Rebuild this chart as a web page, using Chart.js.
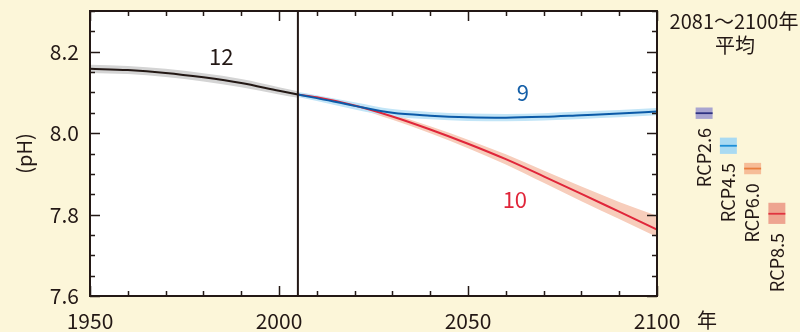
<!DOCTYPE html>
<html>
<head>
<meta charset="utf-8">
<script src="https://cdn.jsdelivr.net/npm/chart.js@4.4.1/dist/chart.umd.min.js"></script>
<style>
  body { margin: 0; background: #fcf6d9; }
  #wrap { position: relative; width: 800px; height: 332px; }
  canvas { position: absolute; top: 0; }
</style>
</head>
<body>
<div id="wrap">
  <canvas id="phChart" width="800" height="332" style="left:0"></canvas>
  <canvas id="rcpChart" width="120" height="332" style="left:680px"></canvas>
</div>
<script>
// historical (1950-2005)
const histYears = [1950, 1960, 1970, 1980, 1990, 2000, 2005];
const histPH = [8.158, 8.155, 8.148, 8.137, 8.123, 8.104, 8.095];
const histHigh = [8.168, 8.165, 8.158, 8.147, 8.133, 8.113, 8.103];
const histLow = [8.148, 8.145, 8.138, 8.127, 8.113, 8.095, 8.087];

// projections (2005-2100)
const projYears = [2005, 2010, 2020, 2030, 2040, 2050, 2060, 2070, 2080, 2090, 2100];
const rcp26 = [8.095, 8.086, 8.067, 8.050, 8.043, 8.039, 8.038, 8.040, 8.044, 8.048, 8.053];
const rcp26High = [8.101, 8.093, 8.076, 8.059, 8.052, 8.048, 8.047, 8.049, 8.053, 8.057, 8.062];
const rcp26Low = [8.089, 8.079, 8.058, 8.041, 8.034, 8.030, 8.029, 8.031, 8.035, 8.039, 8.044];
const rcp85 = [8.095, 8.088, 8.068, 8.041, 8.009, 7.974, 7.936, 7.894, 7.851, 7.807, 7.763];
const rcp85High = [8.099, 8.092, 8.073, 8.047, 8.017, 7.984, 7.948, 7.908, 7.869, 7.831, 7.797];
const rcp85Low = [8.091, 8.084, 8.062, 8.033, 8.000, 7.963, 7.923, 7.878, 7.833, 7.789, 7.745];

// 2081-2100 mean (RCP scenarios)
const rcpNames = ["RCP2.6", "RCP4.5", "RCP6.0", "RCP8.5"];
const rcpMean = [8.049, 7.969, 7.913, 7.802];
const rcpLow = [8.035, 7.949, 7.899, 7.777];
const rcpHigh = [8.063, 7.989, 7.927, 7.829];

const splitYear = 2005;
const yMin = 7.6, yMax = 8.3;

const ink = "#231815";
const font = "'Noto Sans CJK JP', 'Noto Sans', sans-serif";

const pts = (xs, ys) => xs.map((x, i) => ({ x: x, y: ys[i] }));

function band(high, low, xs, color) {
  return [
    { data: pts(xs, high), borderWidth: 0, pointRadius: 0, fill: "+1", backgroundColor: color, cubicInterpolationMode: "monotone", order: 2 },
    { data: pts(xs, low), borderWidth: 0, pointRadius: 0, fill: false, cubicInterpolationMode: "monotone", order: 2 },
  ];
}
function line(ys, xs, color) {
  return { data: pts(xs, ys), borderColor: color, borderWidth: 2, pointRadius: 0, fill: false, cubicInterpolationMode: "monotone", order: 1 };
}

const notes = [
  { x: 1984.7, y: 8.188, text: "12", color: ink },
  { x: 2064.5, y: 8.099, text: "9", color: "#145fa8" },
  { x: 2062.4, y: 7.837, text: "10", color: "#e0263a" },
];

const framePlugin = {
  id: "frame",
  beforeDraw(chart) {
    const { ctx, chartArea: a } = chart;
    ctx.save();
    ctx.fillStyle = "#ffffff";
    ctx.fillRect(a.left, a.top, a.width, a.height);
    ctx.restore();
  },
  afterDatasetsDraw(chart) {
    const { ctx, scales: { x, y } } = chart;
    ctx.save();
    ctx.font = "22px " + font;
    ctx.textAlign = "center";
    ctx.textBaseline = "middle";
    notes.forEach(n => {
      ctx.fillStyle = n.color;
      ctx.fillText(n.text, x.getPixelForValue(n.x), y.getPixelForValue(n.y));
    });
    ctx.restore();
  },
  afterDraw(chart) {
    const { ctx, chartArea: a, scales: { x, y } } = chart;
    ctx.save();
    ctx.strokeStyle = ink;
    ctx.lineWidth = 2;
    ctx.strokeRect(a.left, a.top, a.width, a.height);
    ctx.lineWidth = 1.5;
    ctx.beginPath();
    x.ticks.forEach(t => {
      const px = Math.round(x.getPixelForValue(t.value)) + 0.5;
      const len = Math.round(t.value) % 50 === 0 ? 10 : 5;
      ctx.moveTo(px, a.top); ctx.lineTo(px, a.top + len);
      ctx.moveTo(px, a.bottom); ctx.lineTo(px, a.bottom - len);
    });
    y.ticks.forEach(t => {
      const py = Math.round(y.getPixelForValue(t.value)) + 0.5;
      const len = Math.round(t.value * 100) % 20 === 0 ? 10 : 5;
      ctx.moveTo(a.left, py); ctx.lineTo(a.left + len, py);
      ctx.moveTo(a.right, py); ctx.lineTo(a.right - len, py);
    });
    ctx.stroke();

    ctx.fillStyle = ink;
    ctx.font = "20px " + font;
    ctx.textAlign = "center";
    ctx.textBaseline = "middle";
    ctx.fillText("2081～2100年", 734, 21);
    ctx.fillText("平均", 735, 45);
    ctx.fillText("年", 707, 320);
    ctx.restore();
  },
};

new Chart(document.getElementById("phChart"), {
  type: "line",
  data: {
    datasets: [
      ...band(histHigh, histLow, histYears, "#d4d4d4"),
      ...band(rcp26High, rcp26Low, projYears, "#c2e5f7"),
      ...band(rcp85High, rcp85Low, projYears, "#f7cdbb"),
      line(histPH, histYears, ink),
      line(rcp26, projYears, "#0b5aa8"),
      line(rcp85, projYears, "#e0263a"),
      { data: [{ x: splitYear, y: yMin }, { x: splitYear, y: yMax }], borderColor: ink, borderWidth: 2, pointRadius: 0, order: 0 },
    ],
  },
  options: {
    responsive: false,
    animation: false,
    layout: { padding: { top: 11, right: 143, left: 0, bottom: 0 } },
    plugins: { legend: { display: false }, tooltip: { enabled: false } },
    scales: {
      x: {
        type: "linear",
        min: 1950,
        max: 2100,
        grid: { display: false, drawTicks: false },
        border: { display: false },
        ticks: {
          stepSize: 10,
          autoSkip: false,
          maxRotation: 0,
          padding: 12,
          color: ink,
          font: { size: 21, family: font },
          callback: v => (Math.round(v) % 50 === 0 ? String(Math.round(v)) : ""),
        },
        afterFit: s => { s.height = 36; s.paddingLeft = 0; s.paddingRight = 0; },
      },
      y: {
        min: yMin,
        max: yMax,
        grid: { display: false, drawTicks: false },
        border: { display: false },
        title: { display: true, text: "(pH)", color: ink, font: { size: 20, family: font }, padding: { top: 12, bottom: 0 } },
        ticks: {
          stepSize: 0.05,
          autoSkip: false,
          padding: 11,
          color: ink,
          font: { size: 21, family: font },
          callback: v => (Math.round(v * 100) % 20 === 0 ? v.toFixed(1) : ""),
        },
        afterFit: s => { s.width = 90; s.paddingTop = 0; s.paddingBottom = 0; },
      },
    },
  },
  plugins: [framePlugin],
});

const labelPlugin = {
  id: "rcpLabels",
  afterDatasetsDraw(chart) {
    const { ctx } = chart;
    const meta = chart.getDatasetMeta(0);
    ctx.save();
    ctx.fillStyle = ink;
    ctx.font = "18px " + font;
    ctx.textAlign = "right";
    ctx.textBaseline = "middle";
    meta.data.forEach((bar, i) => {
      const bottom = Math.max(bar.y, bar.base);
      ctx.save();
      ctx.translate(bar.x, bottom + 9);
      ctx.rotate(-Math.PI / 2);
      ctx.fillText(rcpNames[i], 0, 0);
      ctx.restore();
    });
    ctx.restore();
  },
};

new Chart(document.getElementById("rcpChart"), {
  type: "bar",
  data: {
    labels: rcpNames,
    datasets: [
      {
        data: rcpNames.map((_, i) => [rcpLow[i], rcpHigh[i]]),
        backgroundColor: ["#a9a5d0", "#a9daf2", "#f6bd98", "#eea490"],
        barPercentage: 0.7,
        categoryPercentage: 1,
        grouped: false,
        order: 1,
      },
      {
        data: rcpMean.map(m => [m - 0.0022, m + 0.0022]),
        backgroundColor: ["#2e3282", "#1b8ed6", "#e97e3e", "#e0343f"],
        barPercentage: 0.7,
        categoryPercentage: 1,
        grouped: false,
        order: 0,
      },
    ],
  },
  options: {
    responsive: false,
    animation: false,
    layout: { padding: { top: 11, bottom: 36, left: 12, right: 11 } },
    plugins: { legend: { display: false }, tooltip: { enabled: false } },
    scales: {
      x: { display: false },
      y: { display: false, min: yMin, max: yMax },
    },
  },
  plugins: [labelPlugin],
});
</script>
</body>
</html>
